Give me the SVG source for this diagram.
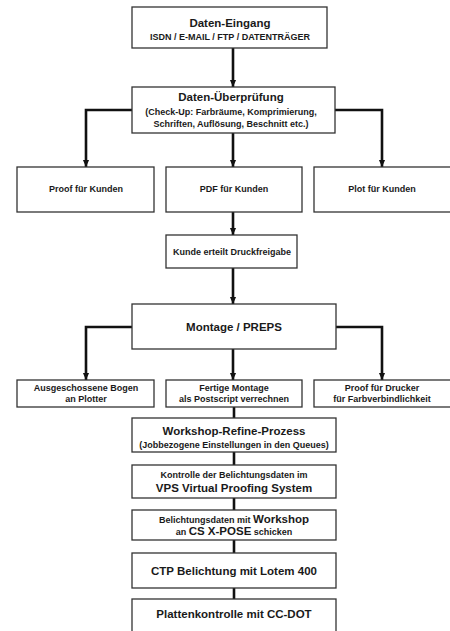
<svg xmlns="http://www.w3.org/2000/svg" width="450" height="631" viewBox="0 0 450 631">
<defs>
<marker id="ah" markerWidth="7" markerHeight="9" refX="3.5" refY="9" orient="auto-start-reverse" markerUnits="userSpaceOnUse" viewBox="0 0 7 9">
<path d="M0,0 L7,0 L3.5,9 Z" fill="#111" transform="rotate(0)"/>
</marker>
<marker id="arr" markerWidth="7" markerHeight="9" refX="8" refY="3.5" orient="auto" markerUnits="userSpaceOnUse" viewBox="0 0 8 7">
<path d="M0,0 L8,3.5 L0,7 Z" fill="#111"/>
</marker>
</defs>
<style>
rect{fill:#fff;stroke:#333;stroke-width:1.3}
text{font-family:"Liberation Sans",Arial,sans-serif;font-weight:bold;fill:#1a1a1a;text-anchor:middle}
.s{font-size:9px}
.b{font-size:11.5px}
.c{fill:none;stroke:#111;stroke-width:2.6}
.a{marker-end:url(#arr)}
</style>
<rect width="450" height="631" style="fill:#fff;stroke:none"/>
<g id="connectors">
<path class="c a" d="M233,48 V87"/>
<path class="c a" d="M132,110 H86 V167"/>
<path class="c a" d="M335,110 H382 V167"/>
<path class="c a" d="M233,133 V167"/>
<path class="c a" d="M233,212 V235"/>
<path class="c a" d="M233,268 V304"/>
<path class="c a" d="M132,327 H86 V380"/>
<path class="c a" d="M336,327 H382 V380"/>
<path class="c a" d="M233,349 V380"/>
<path class="c" d="M234,407 V418"/>
<path class="c" d="M234,452 V465"/>
<path class="c" d="M234,498 V510"/>
<path class="c" d="M234,540 V553"/>
<path class="c" d="M234,588 V599"/>
</g>
<g id="daten-eingang">
<rect x="132" y="7" width="195" height="41"/>
<text class="b" x="230" y="27">Daten-Eingang</text>
<text class="s" x="230" y="40">ISDN / E-MAIL / FTP / DATENTRÄGER</text>
</g>
<g id="daten-ueberpruefung">
<rect x="132" y="87" width="203" height="46"/>
<text class="b" x="231" y="101">Daten-Überprüfung</text>
<text class="s" x="231" y="115">(Check-Up: Farbräume, Komprimierung,</text>
<text class="s" x="231" y="127">Schriften, Auflösung, Beschnitt etc.)</text>
</g>
<g id="proof-kunden">
<rect x="17" y="167" width="137" height="45"/>
<text class="s" x="86" y="192">Proof für Kunden</text>
</g>
<g id="pdf-kunden">
<rect x="166" y="167" width="136" height="45"/>
<text class="s" x="234" y="192">PDF für Kunden</text>
</g>
<g id="plot-kunden">
<rect x="314" y="167" width="140" height="45"/>
<text class="s" x="382" y="192">Plot für Kunden</text>
</g>
<g id="druckfreigabe">
<rect x="166" y="235" width="131" height="33"/>
<text class="s" x="232" y="255">Kunde erteilt Druckfreigabe</text>
</g>
<g id="montage">
<rect x="132" y="304" width="204" height="45"/>
<text class="b" x="234" y="331">Montage / PREPS</text>
</g>
<g id="bogen-plotter">
<rect x="17" y="380" width="137" height="27"/>
<text class="s" x="86" y="391">Ausgeschossene Bogen</text>
<text class="s" x="86" y="402">an Plotter</text>
</g>
<g id="fertige-montage">
<rect x="166" y="380" width="136" height="27"/>
<text class="s" x="234" y="391">Fertige Montage</text>
<text class="s" x="234" y="402">als Postscript verrechnen</text>
</g>
<g id="proof-drucker">
<rect x="314" y="380" width="140" height="27"/>
<text class="s" x="382" y="391">Proof für Drucker</text>
<text class="s" x="382" y="402">für Farbverbindlichkeit</text>
</g>
<g id="workshop-refine">
<rect x="132" y="418" width="204" height="34"/>
<text class="b" x="234" y="435">Workshop-Refine-Prozess</text>
<text class="s" x="234" y="448">(Jobbezogene Einstellungen in den Queues)</text>
</g>
<g id="kontrolle-vps">
<rect x="132" y="465" width="204" height="33"/>
<text class="s" x="234" y="478">Kontrolle der Belichtungsdaten im</text>
<text class="b" x="234" y="492">VPS Virtual Proofing System</text>
</g>
<g id="belichtungsdaten">
<rect x="132" y="510" width="204" height="30"/>
<text class="s" x="234" y="523">Belichtungsdaten mit <tspan class="b">Workshop</tspan></text>
<text class="s" x="234" y="535">an <tspan class="b">CS X-POSE</tspan> schicken</text>
</g>
<g id="ctp">
<rect x="132" y="553" width="204" height="35"/>
<text class="b" x="234" y="575">CTP Belichtung mit Lotem 400</text>
</g>
<g id="plattenkontrolle">
<rect x="132" y="599" width="204" height="45"/>
<text class="b" x="234" y="618">Plattenkontrolle mit CC-DOT</text>
</g>
</svg>
